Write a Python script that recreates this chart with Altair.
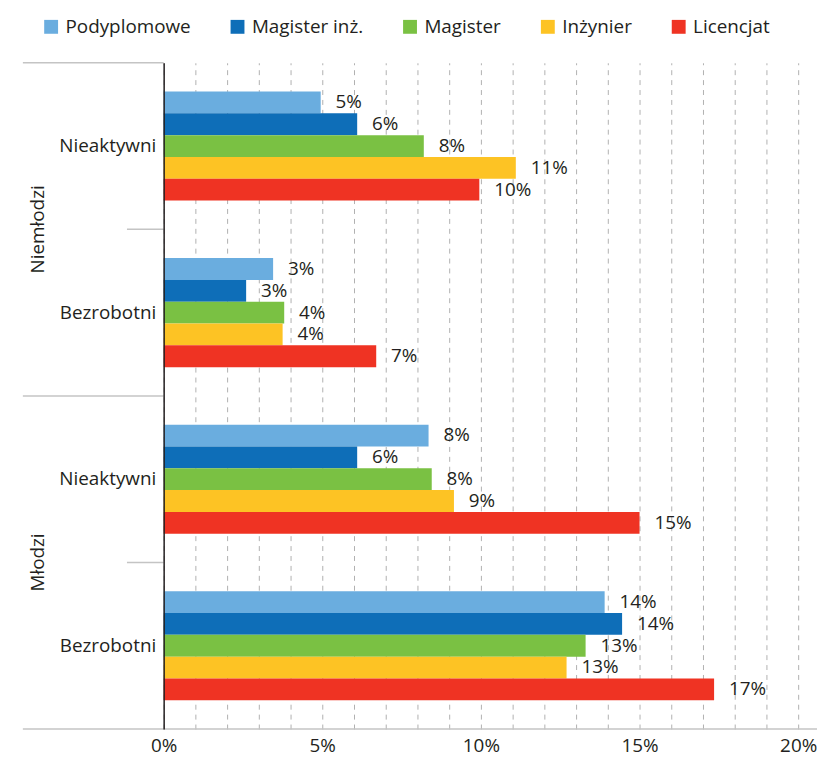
import altair as alt
import pandas as pd

# ---- data ----
groups = ["Niemłodzi", "Niemłodzi", "Młodzi", "Młodzi"]
statuses = ["Nieaktywni", "Bezrobotni", "Nieaktywni", "Bezrobotni"]
series = ["Podyplomowe", "Magister inż.", "Magister", "Inżynier", "Licencjat"]
podyplomowe = [4.95, 3.45, 8.35, 13.9]
magister_inz = [6.1, 2.6, 6.1, 14.45]
magister = [8.2, 3.8, 8.45, 13.3]
inzynier = [11.1, 3.75, 9.15, 12.7]
licencjat = [9.95, 6.7, 15.0, 17.35]
x_ticks = list(range(0, 21))
colors = ["#6aaddf", "#0e6eb8", "#7ac143", "#fdc324", "#ef3323"]

keys = [f"{g}|{s}" for g, s in zip(groups, statuses)]
rows = []
for name, vals in zip(series, [podyplomowe, magister_inz, magister, inzynier, licencjat]):
    for k, v in zip(keys, vals):
        rows.append(dict(key=k, series=name, value=v, label=f"{round(v + 1e-9):.0f}%"))
df = pd.DataFrame(rows)

FONT = "Open Sans"
TXT = "#231f20"
LINE = "#c4c4c4"
FS = 19

y_scale = alt.Scale(domain=keys, paddingInner=0, paddingOuter=0)
x_scale = alt.Scale(domain=[0, 20], nice=False, zero=True)
yoff = alt.YOffset("series:N", sort=series,
                   scale=alt.Scale(domain=series, paddingInner=0, paddingOuter=0,
                                   range=[29, 139]))

bars = alt.Chart(df).mark_bar().encode(
    x=alt.X("value:Q", scale=x_scale,
            axis=alt.Axis(title=None, values=x_ticks, tickCount=len(x_ticks),
                          labelExpr="datum.value % 5 == 0 ? datum.value + '%' : ''",
                          ticks=False, domain=False, grid=True, gridDash=[5, 5],
                          gridColor="#b0b0b0", gridWidth=1, labelFlush=False,
                          labelOverlap=False, labelFontSize=FS, labelFont=FONT,
                          labelColor=TXT, labelPadding=8)),
    y=alt.Y("key:N", sort=keys, scale=y_scale,
            axis=alt.Axis(title=None, labelExpr="split(datum.value, '|')[1]",
                          ticks=False, domain=True, domainColor=TXT, domainWidth=1.5,
                          labelFontSize=FS, labelFont=FONT, labelColor=TXT,
                          labelPadding=8, zindex=1)),
    yOffset=yoff,
    color=alt.Color("series:N", sort=series,
                    scale=alt.Scale(domain=series, range=colors),
                    legend=alt.Legend(orient="none", legendX=-123, legendY=-46,
                                      direction="horizontal", title=None,
                                      symbolType="square", symbolSize=196,
                                      symbolStrokeWidth=0, labelFontSize=FS,
                                      labelFont=FONT, labelColor=TXT,
                                      columnPadding=37, labelOffset=5)),
)

labels = alt.Chart(df).mark_text(align="left", baseline="middle", dx=15,
                                 fontSize=FS, font=FONT, color=TXT).encode(
    x=alt.X("value:Q", scale=x_scale),
    y=alt.Y("key:N", sort=keys, scale=y_scale),
    yOffset=yoff,
    text="label:N",
)

short_df = pd.DataFrame({"key": [keys[1], keys[3]]})
short_rules = alt.Chart(short_df).mark_rule(color=LINE, strokeWidth=1.5).encode(
    y=alt.Y("key:N", sort=keys, scale=y_scale, bandPosition=0),
    x=alt.value(-37), x2=alt.value(0),
)

long_df = pd.DataFrame({"key": [keys[0], keys[2]]})
long_rules = alt.Chart(long_df).mark_rule(color=LINE, strokeWidth=1.5).encode(
    y=alt.Y("key:N", sort=keys, scale=y_scale, bandPosition=0),
    x=alt.value(-142), x2=alt.value(0),
)

bottom_df = pd.DataFrame({"key": [keys[3]]})
bottom_rule = alt.Chart(bottom_df).mark_rule(color=LINE, strokeWidth=1.5).encode(
    y=alt.Y("key:N", sort=keys, scale=y_scale, bandPosition=1),
    x=alt.value(-142), x2=alt.value(660),
)

group_df = pd.DataFrame({"key": [keys[0], keys[2]], "group": [groups[0], groups[2]]})
group_text = alt.Chart(group_df).mark_text(angle=270, align="center", baseline="middle",
                                           fontSize=FS, font=FONT, color=TXT).encode(
    y=alt.Y("key:N", sort=keys, scale=y_scale, bandPosition=1),
    x=alt.value(-127),
    text="group:N",
)

chart = alt.layer(bars, labels, short_rules, long_rules, bottom_rule, group_text).properties(
    width=640, height=672,
    autosize=alt.AutoSizeParams(type="none"),
    padding={"left": 157, "top": 52, "right": 19, "bottom": 26},
).configure_view(stroke=None)

chart.save("out.html", embed_options={"renderer": "svg", "actions": False})
